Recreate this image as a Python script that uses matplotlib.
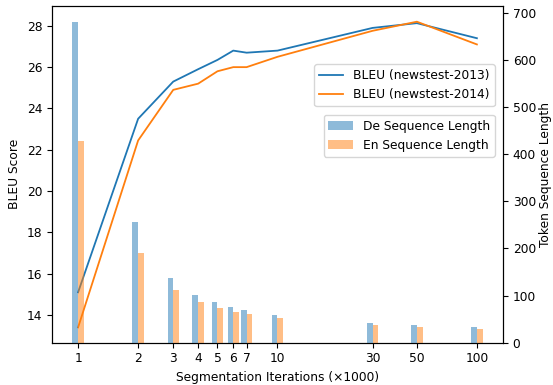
import numpy as np
import matplotlib
matplotlib.use("Agg")
import matplotlib.pyplot as plt

iters = [1, 2, 3, 4, 5, 6, 7, 10, 30, 50, 100]
tick_labels = ["1", "2", "3", "4", "5", "6", "7", "10", "30", "50", "100"]
bleu_2013 = [15.1, 23.5, 25.3, 25.9, 26.35, 26.8, 26.7, 26.8, 27.9, 28.13, 27.4]
bleu_2014 = [13.4, 22.45, 24.9, 25.2, 25.8, 26.0, 26.0, 26.5, 27.76, 28.2, 27.1]
de_len = [680, 257, 137, 101, 86, 75, 69.5, 59.5, 42, 37.6, 33.4]
en_len = [429, 190, 112, 86, 73.7, 65, 61, 52.5, 37.6, 33.4, 29.8]

fs = 8.8
plt.rcParams['font.size'] = fs
fig = plt.figure(figsize=(5.53, 3.85), dpi=100)
ax1 = fig.add_axes([0.094, 0.11, 0.8156, 0.8744])
ax1.set_xscale('log')
l1, = ax1.plot(iters, bleu_2013, color='#1f77b4', lw=1.3, label='BLEU (newstest-2013)')
l2, = ax1.plot(iters, bleu_2014, color='#ff7f0e', lw=1.3, label='BLEU (newstest-2014)')
ax1.set_ylabel('BLEU Score', fontsize=fs)
ax1.set_xlabel('Segmentation Iterations (×1000)', fontsize=fs)

ax2 = ax1.twinx()
x = np.array(iters, dtype=float)
f = 10 ** 0.0286
ax2.bar(x / f, de_len, width=x - x / f, align='edge', color='#1f77b4', alpha=0.5,
        label='De Sequence Length')
ax2.bar(x, en_len, width=x * f - x, align='edge', color='#ff7f0e', alpha=0.5,
        label='En Sequence Length')
ax2.set_ylabel('Token Sequence Length', fontsize=fs, labelpad=2)
ax2.set_ylim(0, 715)

ax1.set_xticks(iters)
ax1.set_xticklabels(tick_labels)
ax1.xaxis.set_minor_locator(matplotlib.ticker.NullLocator())
ax1.set_xlim(10 ** -0.131, 10 ** 2.131)
ax1.set_ylim(12.66, 28.96)

ax1.legend(handles=[l1, l2], loc='upper right', bbox_to_anchor=(0.995, 0.845), fontsize=fs)
ax2.legend(loc='upper right', bbox_to_anchor=(0.995, 0.695), fontsize=fs)
fig.savefig('out.png', dpi=100)
